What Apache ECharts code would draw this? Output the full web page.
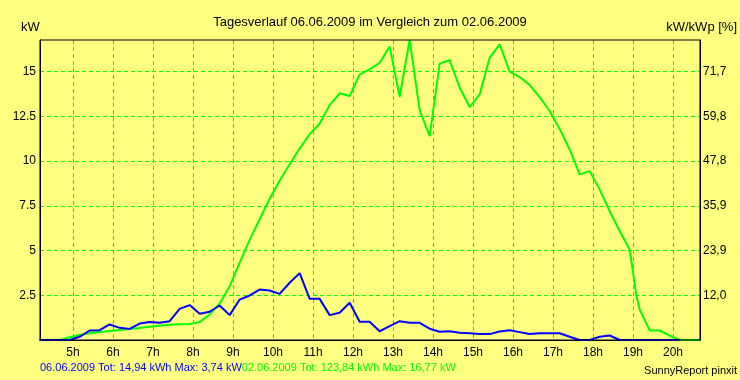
<!DOCTYPE html>
<html>
<head>
<meta charset="utf-8">
<script src="https://cdn.jsdelivr.net/npm/echarts@6/dist/echarts.min.js"></script>
<style>
html,body{margin:0;padding:0;background:#FFFF80;}
#c{width:740px;height:380px;}
</style>
</head>
<body>
<div id="c"></div>
<script>
// ---- data ----
const titleText = 'Tagesverlauf 06.06.2009 im Vergleich zum 02.06.2009';
const hourTicks = [5,6,7,8,9,10,11,12,13,14,15,16,17,18,19,20];
const kwTicks = [2.5,5,7.5,10,12.5,15];
const kwLabels = ['2.5','5','7.5','10','12.5','15'];
const pctLabels = ['12,0','23,9','35,9','47,8','59,8','71,7'];

// 06.06.2009 (blue)
const day1 = [
 ['04:10',0],['04:25',0],['04:40',0],['04:55',0],['05:10',0.18],['05:25',0.53],['05:40',0.55],['05:55',0.87],
 ['06:10',0.68],['06:25',0.62],['06:40',0.92],['06:55',1.0],['07:10',0.96],['07:25',1.05],['07:40',1.74],['07:55',1.95],
 ['08:10',1.47],['08:25',1.58],['08:40',1.93],['08:55',1.39],['09:10',2.26],['09:25',2.49],['09:40',2.82],['09:55',2.77],
 ['10:10',2.58],['10:25',3.2],['10:40',3.74],['10:55',2.30],['11:10',2.30],['11:25',1.39],['11:40',1.52],['11:55',2.08],
 ['12:10',1.02],['12:25',1.02],['12:40',0.49],['12:55',0.77],['13:10',1.05],['13:25',0.96],['13:40',0.96],['13:55',0.63],
 ['14:10',0.46],['14:25',0.49],['14:40',0.40],['14:55',0.38],['15:10',0.33],['15:25',0.33],['15:40',0.47],['15:55',0.55],
 ['16:10',0.44],['16:25',0.33],['16:40',0.38],['16:55',0.38],['17:10',0.38],['17:25',0.18],['17:40',0],['17:55',0],
 ['18:10',0.18],['18:25',0.25],['18:40',0],['18:55',0],['19:10',0],['19:25',0],['19:40',0],['19:55',0],['20:10',0]
];
// 02.06.2009 (green)
const day2 = [
 ['04:10',0],['04:25',0],['04:40',0],['04:55',0.15],['05:10',0.28],['05:25',0.38],['05:40',0.45],['05:55',0.5],
 ['06:10',0.56],['06:25',0.62],['06:40',0.67],['06:55',0.74],['07:10',0.8],['07:25',0.85],['07:40',0.88],['07:55',0.9],
 ['08:10',1.0],['08:25',1.43],['08:40',2.04],['08:55',3.0],['09:10',4.32],['09:25',5.6],['09:40',6.75],['09:55',7.9],
 ['10:10',8.9],['10:25',9.82],['10:40',10.7],['10:55',11.5],['11:10',12.1],['11:25',13.13],['11:40',13.79],['11:55',13.64],
 ['12:10',14.85],['12:25',15.13],['12:40',15.5],['12:55',16.4],['13:10',13.6],['13:25',16.77],['13:40',12.85],['13:55',11.4],
 ['14:10',15.45],['14:25',15.65],['14:40',14.1],['14:55',13.02],['15:10',13.73],['15:25',15.78],['15:40',16.53],['15:55',15.0],
 ['16:10',14.7],['16:25',14.25],['16:40',13.58],['16:55',12.8],['17:10',11.8],['17:25',10.65],['17:40',9.26],['17:55',9.44],
 ['18:10',8.42],['18:25',7.2],['18:40',6.09],['18:55',5.06],['19:00',3.8],['19:05',2.5],['19:10',1.71],['19:25',0.53],
 ['19:40',0.53],['19:55',0.25],['20:10',0],['20:25',0],['20:40',0]
];
const legend1 = '06.06.2009 Tot: 14,94 kWh Max: 3,74 kW';
const legend2 = '02.06.2009 Tot: 123,84 kWh Max: 16,77 kW';
const credit = 'SunnyReport pinxit';
const kwMax = 16.77;
const xMin = 4.175, xSpanHours = 16.5;

// ---- helpers ----
const toH = s => { const p = s.split(':'); return +p[0] + (+p[1])/60; };
const conv = arr => arr.map(d => [toH(d[0]), d[1]]);
const near = (v, list) => list.findIndex(t => Math.abs(t - v) < 1e-6);

const FONT = 'Liberation Sans, Arial, sans-serif';
const GRID_GREEN = '#00FF00';
const dash = [4,3];
const hourFirst = hourTicks[0], hourLast = hourTicks[hourTicks.length - 1];
// pixel layout of plot: 40..700 horizontally
const pxPerHour = 660 / xSpanHours;
const g2Left = 40 + (hourFirst - xMin) * pxPerHour;
const g2Right = 740 - (40 + (hourLast - xMin) * pxPerHour);

const chart = echarts.init(document.getElementById('c'), null, {renderer:'canvas'});
chart.setOption({
  backgroundColor: '#FFFF80',
  animation: false,
  textStyle: {fontFamily: FONT},
  title: {
    text: titleText, left: 'center', top: 11,
    textStyle: {fontFamily: FONT, fontSize: 13, fontWeight: 'normal', color: '#000'}
  },
  grid: [
    {left: 40, right: 40, top: 40, bottom: 40, show: true, borderColor: '#000', borderWidth: 1, backgroundColor: 'transparent', z: 5},
    {left: g2Left, right: g2Right, top: 40, bottom: 40, show: false}
  ],
  xAxis: [{
    type: 'value', min: xMin, max: xMin + xSpanHours, gridIndex: 0,
    axisLine: {show: true, lineStyle: {color: '#000', width: 1}},
    axisTick: {show: false},
    splitLine: {show: false},
    axisLabel: {customValues: hourTicks, formatter: v => Math.round(v) + 'h', color: '#000', fontSize: 12, fontFamily: FONT, margin: 7}
  },{
    type: 'value', min: hourFirst, max: hourLast, interval: 1, gridIndex: 1,
    axisLine: {show: false}, axisTick: {show: false}, axisLabel: {show: false},
    splitLine: {show: true, showMinLine: true, showMaxLine: true, lineStyle: {color: GRID_GREEN, type: dash, width: 1}}
  }],
  yAxis: [{
    type: 'value', min: 0, max: kwMax, interval: 2.5, gridIndex: 0,
    axisLine: {show: true, lineStyle: {color: '#000'}},
    axisTick: {show: false},
    splitLine: {show: true, showMaxLine: false, showMinLine: false, lineStyle: {color: GRID_GREEN, type: dash, width: 1}},
    axisLabel: {color: '#000', fontSize: 12, fontFamily: FONT, margin: 4,
      formatter: v => { const i = near(v, kwTicks); return i < 0 ? '' : kwLabels[i]; }}
  },{
    type: 'value', min: 0, max: kwMax, interval: 2.5, position: 'right', gridIndex: 0,
    axisLine: {show: true, lineStyle: {color: '#000'}},
    axisTick: {show: false},
    splitLine: {show: false},
    axisLabel: {color: '#000', fontSize: 12, fontFamily: FONT, margin: 3,
      formatter: v => { const i = near(v, kwTicks); return i < 0 ? '' : pctLabels[i]; }}
  },{
    type: 'value', min: 0, max: kwMax, gridIndex: 1, show: false
  }],
  series: [{
    type: 'line', data: [], xAxisIndex: 1, yAxisIndex: 2, silent: true
  },{
    name: '02.06.2009', type: 'line', data: conv(day2), z: 3, xAxisIndex: 0, yAxisIndex: 0,
    showSymbol: false, symbol: 'none', smooth: false,
    lineStyle: {color: '#00FF00', width: 2}
  },{
    name: '06.06.2009', type: 'line', data: conv(day1), z: 4, xAxisIndex: 0, yAxisIndex: 0,
    showSymbol: false, symbol: 'none', smooth: false,
    lineStyle: {color: '#0000FF', width: 2}
  }],
  graphic: [
    {type: 'text', left: 21, top: 21, style: {text: 'kW', font: '13px ' + FONT, fill: '#000'}},
    {type: 'text', right: 3, top: 21, style: {text: 'kW/kWp [%]', font: '13px ' + FONT, fill: '#000'}},
    {type: 'text', left: 40, top: 362, style: {
      rich: {b: {fill: '#0000FF', font: '11px ' + FONT}, g: {fill: '#00FF00', font: '11px ' + FONT}},
      text: '{b|' + legend1 + '}{g|' + legend2 + '}'
    }},
    {type: 'text', right: 3, top: 365, style: {text: credit, font: '11px ' + FONT, fill: '#000'}}
  ]
});
</script>
</body>
</html>
